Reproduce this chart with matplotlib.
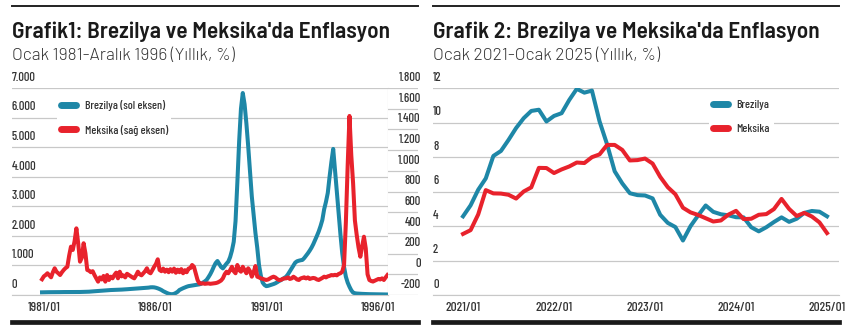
import numpy as np
import matplotlib
matplotlib.use('Agg')
import matplotlib.pyplot as plt
from matplotlib.lines import Line2D
from matplotlib.transforms import ScaledTranslation

# ---- data: 12-month inflation, monthly ----
# Grafik 1: Jan 1981 - Dec 1996 (Brazil on left axis, Mexico on right axis)
brazil_8196 = [
    90, 92, 93, 94, 95, 95, 96, 96, 97, 98, 98, 100,              # 1981
    100, 100, 100, 100, 100, 100, 101, 101, 102, 102, 104, 105,   # 1982
    108, 110, 112, 118, 122, 126, 130, 135, 140, 145, 150, 155,   # 1983
    160, 165, 168, 170, 172, 175, 178, 180, 183, 186, 190, 195,   # 1984
    200, 205, 210, 215, 218, 222, 226, 230, 235, 240, 245, 250,   # 1985
    260, 262, 258, 245, 225, 200, 170, 130, 100, 70, 45, 30,      # 1986
    25, 40, 70, 110, 170, 200, 230, 255, 280, 300, 310, 320,      # 1987
    330, 340, 350, 360, 380, 420, 460, 510, 600, 700, 820, 960,   # 1988
    1080, 1150, 1050, 950, 900, 980, 1060, 1130, 1280, 1500, 1800, 2500,     # 1989
    3800, 5200, 6300, 6830, 6450, 5800, 5030, 4200, 3330, 2700, 2100, 1600,  # 1990
    1000, 650, 420, 340, 300, 310, 330, 350, 370, 395, 430, 470,  # 1991
    500, 540, 580, 620, 700, 800, 900, 1000, 1095, 1140, 1160, 1175,         # 1992
    1186, 1250, 1330, 1410, 1500, 1600, 1720, 1860, 2000, 2150, 2330, 2540,  # 1993
    2900, 3150, 3450, 4000, 4500, 4940, 4240, 3500, 2770, 2050, 1410, 950,   # 1994
    620, 420, 280, 160, 80, 60, 50, 45, 40, 38, 35, 32,           # 1995
    30, 28, 27, 26, 25, 24, 22, 21, 20, 19, 18, 17,               # 1996
]
mexico_8196 = [
    -48, -20, -7, 10, -10, -29, 20, 58, 25, 10, -7, 20,           # 1981
    42, 60, 73, 180, 267, 235, 320, 444, 300, 122, 160, 300,      # 1982
    203, 42, 35, 20, 30, -7, -40, -71, -30, -50, -16, -71,        # 1983
    -7, -55, -23, -39, -7, 16, -39, 25, -20, -10, -30, 5,         # 1984
    -7, -20, -30, -39, -10, 25, 0, -10, 10, 30, 58, 20,           # 1985
    10, 40, 73, 100, 145, 42, 30, 55, 25, 45, 20, 50,             # 1986
    25, 55, 15, 45, 20, 50, 10, 40, 20, 55, 60, 90,               # 1987
    73, 10, -55, -87, -90, -87, -92, -90, -88, -92, -90, -88,     # 1988
    -85, -80, -71, -60, -39, 0, 25, 10, 40, 73, 30, 10,           # 1989
    90, 40, 25, 73, 40, 10, 58, 30, -23, 20, 80, -23,             # 1990
    -30, -39, -45, -50, -55, -50, -40, -30, -23, -30, -45, -55,   # 1991
    -55, -45, -40, -39, -30, -45, -40, -23, -35, -50, -55, -40,   # 1992
    -35, -29, -40, -30, -45, -39, -35, -39, -50, -55, -45, -35,   # 1993
    -23, -30, -20, -15, -7, -10, -5, -10, 3, 10, 25, 90,          # 1994
    500, 1050, 1530, 1150, 880, 520, 380, 260, 170, 270, 363, 250,  # 1995
    0, -55, -65, -70, -62, -55, -45, -50, -39, -55, -30, -7,      # 1996
]
ticks_8196 = ['1981/01', '1986/01', '1991/01', '1996/01']

# Grafik 2: Jan 2021 - Jan 2025
brazil_2125 = [
    4.56, 5.20, 6.10, 6.76, 8.06, 8.35, 8.99, 9.68, 10.25, 10.67, 10.74, 10.06,
    10.38, 10.54, 11.30, 11.95, 11.73, 11.85, 10.07, 8.73, 7.17, 6.47, 5.90, 5.79,
    5.77, 5.60, 4.65, 4.18, 3.94, 3.16, 3.99, 4.61, 5.19, 4.82, 4.68, 4.62,
    4.51, 4.50, 3.93, 3.69, 3.93, 4.23, 4.50, 4.24, 4.42, 4.76, 4.87, 4.83,
    4.56,
]
mexico_2125 = [
    3.54, 3.76, 4.67, 6.08, 5.89, 5.88, 5.81, 5.59, 6.00, 6.24, 7.37, 7.36,
    7.07, 7.28, 7.45, 7.68, 7.65, 7.99, 8.15, 8.70, 8.70, 8.41, 7.80, 7.82,
    7.91, 7.62, 6.85, 6.25, 5.84, 5.06, 4.79, 4.64, 4.45, 4.26, 4.32, 4.66,
    4.88, 4.40, 4.42, 4.65, 4.69, 4.98, 5.57, 4.99, 4.58, 4.76, 4.55, 4.21,
    3.59,
]
ticks_2125 = ['2021/01', '2022/01', '2023/01', '2024/01', '2025/01']

TEAL = '#1e87a7'
RED = '#e8222c'
GRID = '#c8c8c8'
TXT = '#333333'
tick_font = dict(family='Barlow Condensed', weight=500, size=9, color=TXT)
xtick_font = dict(family='Barlow Condensed', weight=500, size=9.5, color=TXT)
leg_font = dict(family='Barlow Condensed', weight=500, size=8.5)

W, H = 850, 336


def box(x0, x1, ytop, ybot):
    # pixel box -> figure fraction
    return [x0 / W, 1 - ybot / H, (x1 - x0) / W, (ybot - ytop) / H]


def dots(v):
    return f'{int(v):,}'.replace(',', '.')


fig = plt.figure(figsize=(W / 100, H / 100), dpi=100)
lift = ScaledTranslation(0, 3 / 72, fig.dpi_scale_trans)  # labels sit a bit above their gridline

# ---------------- Grafik 1 ----------------
x1 = np.arange(len(brazil_8196))
ax1 = fig.add_axes(box(12, 388, 88, 295))
ax1.plot(x1, brazil_8196, color=TEAL, lw=2.9, solid_joinstyle='round')
ax1.set_xlim(-16.6, len(x1) - 1 + 0.3)
ax1.set_ylim(0, 7000)
yt = np.arange(0, 7001, 1000)
ax1.set_yticks(yt, [dots(v) for v in yt], ha='left', va='bottom', **tick_font)
ax1.tick_params(axis='y', length=0, pad=0)
ax1.set_xticks(np.linspace(1, 186, 4), ticks_8196, **xtick_font)
ax1.tick_params(axis='x', length=0, pad=5)
ax1.grid(axis='y', color=GRID, lw=0.9)
ax1.set_axisbelow(True)
for s in ['top', 'left']:
    ax1.spines[s].set_visible(False)
ax1.spines['bottom'].set_color(GRID)
ax1.spines['right'].set_color(GRID)

axm = ax1.twinx()
axm.plot(x1, mexico_8196, color=RED, lw=2.9, solid_joinstyle='round')
axm.set_ylim(-200, 1800)
axm.axis('off')

# right-hand scale column
axr = fig.add_axes(box(388, 418, 88, 295), sharey=axm)
yr = np.arange(-200, 1801, 200)
axr.set_yticks(yr, [dots(v) for v in yr], ha='right', va='bottom', **tick_font)
axr.tick_params(axis='y', left=False, labelleft=False, right=False, labelright=True, pad=-1.5)
axr.set_xticks([])
axr.grid(axis='y', color=GRID, lw=0.9)
for s in axr.spines.values():
    s.set_visible(False)

handles = [Line2D([], [], color=TEAL, lw=5, solid_capstyle='round'),
           Line2D([], [], color=RED, lw=5, solid_capstyle='round')]
ax1.legend(handles, ['Brezilya (sol eksen)', 'Meksika (sağ eksen)'], loc='upper left',
           bbox_to_anchor=(0.121, 0.959), frameon=True, facecolor='white', edgecolor='none',
           framealpha=1, fancybox=False, borderpad=0.3, borderaxespad=0, handlelength=1.3,
           handletextpad=0.7, labelspacing=1.15, prop=leg_font, labelcolor=TXT)

# ---------------- Grafik 2 ----------------
x2 = np.arange(len(brazil_2125))
ax2 = fig.add_axes(box(433, 839, 88, 295))
ax2.plot(x2, brazil_2125, color=TEAL, lw=2.9, solid_joinstyle='round', label='Brezilya')
ax2.plot(x2, mexico_2125, color=RED, lw=2.9, solid_joinstyle='round', label='Meksika')
ax2.set_xlim(-3.96, 49.58)
ax2.set_ylim(0, 12)
yt2 = np.arange(0, 13, 2)
ax2.set_yticks(yt2, [str(v) for v in yt2], ha='left', va='bottom', **tick_font)
ax2.tick_params(axis='y', length=0, pad=0)
ax2.set_xticks(np.arange(0, len(x2), 12), ticks_2125, **xtick_font)
ax2.tick_params(axis='x', length=0, pad=5)
ax2.grid(axis='y', color=GRID, lw=0.9)
ax2.set_axisbelow(True)
for s in ['top', 'left', 'right']:
    ax2.spines[s].set_visible(False)
ax2.spines['bottom'].set_color(GRID)
ax2.legend(handles, ['Brezilya', 'Meksika'], loc='upper left',
           bbox_to_anchor=(0.681, 0.959), frameon=True, facecolor='white', edgecolor='none',
           framealpha=1, fancybox=False, borderpad=0.3, borderaxespad=0, handlelength=1.3,
           handletextpad=0.7, labelspacing=1.15, prop=leg_font, labelcolor=TXT)

for t in ax1.yaxis.get_major_ticks() + ax2.yaxis.get_major_ticks():
    t.label1.set_transform(t.label1.get_transform() + lift)
for t in axr.yaxis.get_major_ticks():
    t.label2.set_transform(t.label2.get_transform() + lift)

# ---------------- titles and rules ----------------
titles = [(12, 418, 'Grafik1: Brezilya ve Meksika\'da Enflasyon', 'Ocak 1981-Aralık 1996 (Yıllık, %)'),
          (433, 839, 'Grafik 2: Brezilya ve Meksika\'da Enflasyon', 'Ocak 2021-Ocak 2025 (Yıllık, %)')]
for xa, xb, t, st in titles:
    fig.text(xa / W, 1 - 38 / H, t, family='Barlow Semi Condensed', weight=600, size=16.8,
             color='#1a1a1a', va='baseline')
    fig.text(xa / W, 1 - 60 / H, st, family='Barlow', weight=300, size=12.5,
             color=TXT, va='baseline')
    fig.add_artist(Line2D([xa / W, xb / W], [1 - 6 / H] * 2, color='#222222', lw=1.4))
    fig.add_artist(Line2D([xa / W, xb / W], [1 - 322 / H] * 2, color='#1a1a1a', lw=3.4))

fig.savefig('out.png', dpi=100, facecolor='white')
